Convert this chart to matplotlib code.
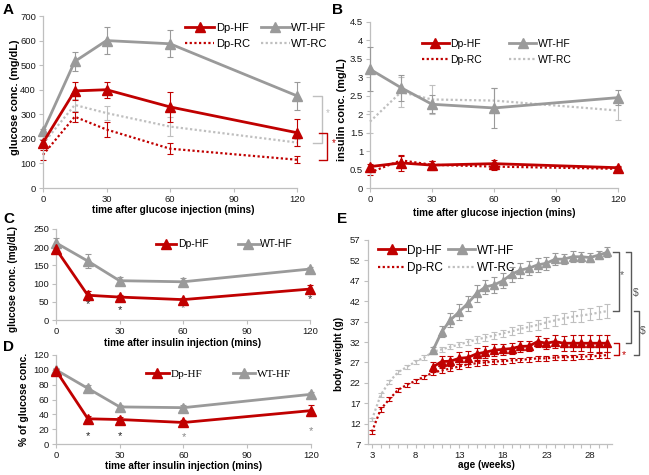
import matplotlib
matplotlib.use("Agg")
import matplotlib.pyplot as plt
from matplotlib.lines import Line2D
import numpy as np

plt.rcParams['font.family'] = ['Liberation Sans', 'DejaVu Sans']

RED = '#C00000'
GRAY = '#9A9A9A'
LGRAY = '#BFBFBF'
DGRAY = '#595959'
DOT = (0, (1, 1.1))

# ---------------- data ----------------
t_gtt = [0, 15, 30, 60, 120]
# Panel A: glucose (mg/dL) during GTT
A_dphf = [185, 395, 400, 330, 225]
A_dphf_err = [12, 35, 32, 60, 55]
A_wthf = [230, 515, 600, 587, 375]
A_wthf_err = [10, 37, 55, 55, 58]
A_dprc = [135, 290, 238, 160, 115]
A_dprc_err = [20, 20, 30, 22, 15]
A_wtrc = [180, 338, 305, 250, 185]
A_wtrc_err = [15, 25, 30, 40, 15]

# Panel B: insulin (mg/L) during GTT
B_dphf = [0.58, 0.68, 0.62, 0.66, 0.55]
B_dphf_err = [0.08, 0.22, 0.12, 0.1, 0.05]
B_wthf = [3.22, 2.72, 2.27, 2.17, 2.45]
B_wthf_err = [0.6, 0.35, 0.25, 0.55, 0.2]
B_dprc = [0.42, 0.75, 0.63, 0.58, 0.52]
B_dprc_err = [0.08, 0.12, 0.1, 0.1, 0.05]
B_wtrc = [1.8, 2.6, 2.4, 2.37, 2.1]
B_wtrc_err = [0.3, 0.4, 0.4, 0.35, 0.27]

t_itt = [0, 15, 30, 60, 120]
# Panel C: glucose (mg/dL) during ITT
C_dphf = [195, 68, 63, 56, 85]
C_dphf_err = [5, 12, 5, 5, 10]
C_wthf = [212, 162, 108, 105, 140]
C_wthf_err = [12, 18, 10, 10, 5]
C_star_y = [44, 27, 34, 58]
# Panel D: % of initial glucose
D_dphf = [99, 34, 33, 29, 45]
D_dphf_err = [2, 4, 3, 3, 7]
D_wthf = [100, 75, 50, 49, 67]
D_wthf_err = [2, 4, 3, 3, 3]
D_star_y = [11, 11, 10, 18]
star_t = [15, 30, 60, 120]

# Panel E: body weight (g)
wk_rc = list(range(3, 31))
wk_hf = list(range(10, 31))
E_dprc = [10.0, 15.5, 18.0, 20.3, 21.5, 22.5, 23.5, 24.5, 25.0, 25.5, 26.0, 26.5,
          26.8, 27.0, 27.2, 27.3, 27.5, 27.6, 27.8, 28.0, 28.0, 28.2, 28.3, 28.3,
          28.4, 28.5, 28.6, 28.8]
E_dprc_err = [0.5, 0.6] + [0.5] * 6 + [0.6] * 19 + [0.7]
E_wtrc = [13.0, 19.0, 22.3, 24.6, 25.9, 27.2, 28.2, 29.6, 30.2, 30.8, 31.4, 32.0,
          32.6, 33.1, 33.6, 34.1, 34.6, 35.2, 35.7, 36.2, 36.8, 37.3, 37.8, 38.2,
          38.5, 38.8, 39.2, 39.6]
E_wtrc_err = [0.4, 0.5, 0.5, 0.5, 0.5, 0.5, 0.5, 0.5, 0.6, 0.6, 0.7, 0.7, 0.8, 0.8,
              0.9, 0.9, 1.0, 1.0, 1.1, 1.2, 1.3, 1.3, 1.4, 1.4, 1.5, 1.5, 1.6, 1.6]
E_wthf = [30.0, 34.5, 37.4, 39.4, 41.5, 43.9, 45.5, 46.0, 47.0, 48.6, 49.6, 50.1,
          50.9, 51.3, 52.3, 52.3, 52.9, 52.9, 52.7, 53.3, 54.0]
E_wthf_err = [0.8, 1.3, 1.8, 2.0, 1.8, 2.0, 1.8, 1.9, 1.8, 1.8, 1.8, 1.8, 1.7, 1.6,
              1.4, 1.3, 1.3, 1.2, 1.1, 1.0, 1.2]
E_dphf = [25.9, 27.2, 27.3, 28.0, 28.2, 29.1, 29.5, 30.0, 30.2, 30.4, 30.9, 31.0,
          32.1, 31.7, 32.1, 31.7, 31.7, 31.7, 31.7, 31.7, 31.7]
E_dphf_err = [1.2, 1.3, 1.2, 1.5, 1.6, 1.4, 1.4, 1.4, 1.4, 1.4, 1.3, 1.3, 1.3, 1.3,
              1.5, 1.8, 2.0, 2.0, 2.1, 2.1, 2.1]

# ---------------- helpers ----------------
W, H = 649, 475
fig = plt.figure(figsize=(W / 100, H / 100), dpi=100)


def add_ax(x0, x1, ytop, ybot):
    return fig.add_axes([x0 / W, 1 - ybot / H, (x1 - x0) / W, (ybot - ytop) / H])


def style(ax, fs=6.8):
    for s in ['top', 'right']:
        ax.spines[s].set_visible(False)
    for s in ['left', 'bottom']:
        ax.spines[s].set_color(LGRAY)
        ax.spines[s].set_linewidth(0.9)
    ax.tick_params(axis='both', which='both', direction='out', length=3,
                   width=0.8, color=LGRAY, labelsize=fs, labelcolor='#1a1a1a', pad=2)


def series(ax, x, y, err, color, ls, lw, marker=None, ms=6.5, z=3):
    ax.errorbar(x, y, yerr=err, color=color, ls=ls, lw=lw, marker=marker, ms=ms,
                elinewidth=0.8, capsize=2, capthick=0.8, clip_on=False, zorder=z)


def handle(color, ls, lw, marker=None):
    return Line2D([], [], color=color, ls=ls, lw=lw, marker=marker, ms=6.5)


def label_letter(x, y, s):
    fig.text(x / W, 1 - y / H, s, fontsize=11, fontweight='bold', ha='left', va='top')


# ---------------- Panel A ----------------
axA = add_ax(43, 297, 16, 188)
style(axA)
series(axA, t_gtt, A_wtrc, A_wtrc_err, LGRAY, DOT, 1.6, z=2)
series(axA, t_gtt, A_dprc, A_dprc_err, RED, DOT, 1.6, z=2)
series(axA, t_gtt, A_wthf, A_wthf_err, GRAY, '-', 2.0, '^')
series(axA, t_gtt, A_dphf, A_dphf_err, RED, '-', 2.0, '^')
axA.set_xlim(0, 120)
axA.set_ylim(0, 700)
axA.set_xticks([0, 30, 60, 90, 120])
axA.set_yticks(range(0, 701, 100))
axA.set_xlabel('time after glucose injection (mins)', fontsize=7.2, fontweight='bold')
axA.set_ylabel('glucose conc. (mg/dL)', fontsize=7.8, fontweight='bold')
axA.xaxis.set_label_coords(0.514, -0.10)
axA.yaxis.set_label_coords(-0.089, 0.53)
axA.legend([handle(RED, '-', 2, '^'), handle(RED, DOT, 1.6),
            handle(GRAY, '-', 2, '^'), handle(LGRAY, DOT, 1.6)],
           ['Dp-HF', 'Dp-RC', 'WT-HF', 'WT-RC'], ncol=2, frameon=False,
           loc='upper left', bbox_to_anchor=(0.52, 1.02), fontsize=8,
           handlelength=2.6, handletextpad=0.15, columnspacing=1.0, labelspacing=0.55)
# significance brackets
for (ytop, ybot, xs, xe, col, sx, dy) in [(A_wthf[-1], A_wtrc[-1], 127.6, 131.8, LGRAY, 134.5, 25),
                                          (A_dphf[-1], A_dprc[-1], 130.4, 134.2, RED, 137.5, 12)]:
    axA.plot([xs, xe, xe, xs], [ytop, ytop, ybot, ybot], color=col, lw=1.0, clip_on=False)
    axA.text(sx, (ytop + ybot) / 2 + dy, '*', color=col, fontsize=7, ha='center', va='center')
label_letter(3, 3, 'A')

# ---------------- Panel B ----------------
axB = add_ax(370, 618, 22, 188)
style(axB)
series(axB, t_gtt, B_wtrc, B_wtrc_err, LGRAY, DOT, 1.6, z=2)
series(axB, t_gtt, B_dprc, B_dprc_err, RED, DOT, 1.6, z=2)
series(axB, t_gtt, B_wthf, B_wthf_err, GRAY, '-', 2.0, '^')
series(axB, t_gtt, B_dphf, B_dphf_err, RED, '-', 2.0, '^')
axB.set_xlim(0, 120)
axB.set_ylim(0, 4.5)
axB.set_xticks([0, 30, 60, 90, 120])
bt = np.arange(0, 4.51, 0.5)
axB.set_yticks(bt)
axB.set_yticklabels([f'{v:g}' for v in bt])
axB.set_xlabel('time after glucose injection (mins)', fontsize=7.2, fontweight='bold')
axB.set_ylabel('insulin conc. (mg/L)', fontsize=7.8, fontweight='bold')
axB.xaxis.set_label_coords(0.5, -0.12)
axB.yaxis.set_label_coords(-0.093, 0.473)
axB.legend([handle(RED, '-', 2, '^'), handle(RED, DOT, 1.6),
            handle(GRAY, '-', 2, '^'), handle(LGRAY, DOT, 1.6)],
           ['Dp-HF', 'Dp-RC', 'WT-HF', 'WT-RC'], ncol=2, frameon=False,
           loc='upper left', bbox_to_anchor=(0.17, 0.955), fontsize=7.5,
           handlelength=2.6, handletextpad=0.15, columnspacing=2.6, labelspacing=0.6)
label_letter(332, 3, 'B')

# ---------------- Panel C ----------------
axC = add_ax(56, 310, 229, 320)
style(axC)
series(axC, t_itt, C_wthf, C_wthf_err, GRAY, '-', 2.0, '^')
series(axC, t_itt, C_dphf, C_dphf_err, RED, '-', 2.0, '^')
axC.set_xlim(0, 120)
axC.set_ylim(0, 250)
axC.set_xticks([0, 30, 60, 90, 120])
axC.set_yticks(range(0, 251, 50))
for t, y, c in zip(star_t, C_star_y, ['#222', '#222', '#777', '#333']):
    axC.text(t, y, '*', fontsize=8, ha='center', va='center', color=c)
axC.set_xlabel('time after insulin injection (mins)', fontsize=7.2, fontweight='bold')
axC.set_ylabel('glucose conc. (mg/dL)', fontsize=7.2, fontweight='bold')
axC.xaxis.set_label_coords(0.497, -0.198)
axC.yaxis.set_label_coords(-0.150, 0.45)
axC.legend([handle(RED, '-', 2, '^'), handle(GRAY, '-', 2, '^')],
           ['Dp-HF', 'WT-HF'], ncol=2, frameon=False,
           loc='upper left', bbox_to_anchor=(0.355, 0.99), fontsize=7.5,
           handlelength=2.0, handletextpad=0.15, columnspacing=2.8)
label_letter(3, 212, 'C')

# ---------------- Panel D ----------------
axD = add_ax(56, 311, 355, 444)
style(axD)
series(axD, t_itt, D_wthf, D_wthf_err, GRAY, '-', 2.0, '^')
series(axD, t_itt, D_dphf, D_dphf_err, RED, '-', 2.0, '^')
axD.set_xlim(0, 120)
axD.set_ylim(0, 120)
axD.set_xticks([0, 30, 60, 90, 120])
axD.set_yticks(range(0, 121, 20))
for t, y, c in zip(star_t, D_star_y, ['#222', '#222', '#888', '#888']):
    axD.text(t, y, '*', fontsize=8, ha='center', va='center', color=c)
axD.set_xlabel('time after insulin injection (mins)', fontsize=7.2, fontweight='bold')
axD.set_ylabel('% of glucose conc.', fontsize=7.4, fontweight='bold')
axD.xaxis.set_label_coords(0.5, -0.19)
axD.yaxis.set_label_coords(-0.106, 0.5)
axD.legend([handle(RED, '-', 2, '^'), handle(GRAY, '-', 2, '^')],
           ['Dp-HF', 'WT-HF'], ncol=2, frameon=False,
           loc='upper left', bbox_to_anchor=(0.315, 0.95),
           prop={'family': 'Liberation Serif', 'size': 8},
           handlelength=2.0, handletextpad=0.15, columnspacing=2.8)
label_letter(3, 340, 'D')

# ---------------- Panel E ----------------
axE = add_ax(367.6, 611.8, 240, 444)
style(axE)
series(axE, wk_rc, E_wtrc, E_wtrc_err, LGRAY, DOT, 1.6, z=2)
series(axE, wk_rc, E_dprc, E_dprc_err, RED, DOT, 1.6, z=2)
series(axE, wk_hf, E_wthf, E_wthf_err, GRAY, '-', 2.0, '^', ms=6)
series(axE, wk_hf, E_dphf, E_dphf_err, RED, '-', 2.0, '^', ms=6)
axE.set_xlim(2.5, 30.5)
axE.set_ylim(7, 57)
axE.set_xticks([3, 8, 13, 18, 23, 28])
axE.set_xticks(range(3, 31), minor=True)
axE.set_yticks(range(7, 58, 5))
axE.set_xlabel('age (weeks)', fontsize=7.2, fontweight='bold')
axE.set_ylabel('body weight (g)', fontsize=7.2, fontweight='bold')
axE.xaxis.set_label_coords(0.488, -0.079)
axE.yaxis.set_label_coords(-0.097, 0.44)
axE.legend([handle(RED, '-', 2, '^'), handle(RED, DOT, 1.6),
            handle(GRAY, '-', 2, '^'), handle(LGRAY, DOT, 1.6)],
           ['Dp-HF', 'Dp-RC', 'WT-HF', 'WT-RC'], ncol=2, frameon=False,
           loc='upper left', bbox_to_anchor=(0.0, 1.03), fontsize=8.5,
           handlelength=2.3, handletextpad=0.15, columnspacing=0.45, labelspacing=0.45)
# brackets
brk = [(E_wthf[-1], E_wtrc[-1], 30.6, 31.3, DGRAY, '*', 31.6, 48.4),
       (E_wthf[-1], E_dphf[-1], 32.1, 32.7, DGRAY, r'\$', 33.2, 44.0),
       (E_wtrc[-1], E_dprc[-1], 33.0, 33.6, DGRAY, r'\$', 34.0, 34.6),
       (E_dphf[-1], E_dprc[-1], 30.8, 31.3, RED, '*', 31.9, 28.8)]
for ytop, ybot, xs, xe, col, s, tx, ty in brk:
    axE.plot([xs, xe, xe, xs], [ytop, ytop, ybot, ybot], color=col, lw=1.0, clip_on=False)
    axE.text(tx, ty, s, color=col, fontsize=7.5, ha='center', va='center')
label_letter(337, 212, 'E')

fig.savefig('out.png', dpi=100)
